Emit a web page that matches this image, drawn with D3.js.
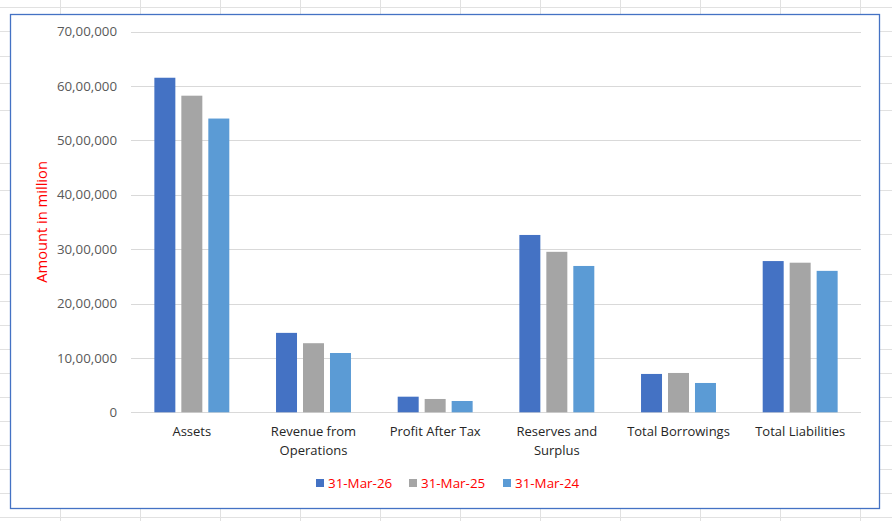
<!DOCTYPE html>
<html>
<head>
<meta charset="utf-8">
<script src="https://cdn.jsdelivr.net/npm/d3@7"></script>
<style>
  html, body { margin: 0; padding: 0; background: #fff; }
  svg { display: block; font-family: "Open Sans", "Noto Sans", sans-serif; }
</style>
</head>
<body>
<div id="chart"></div>
<script>
// Data
const categories = ["Assets", "Revenue from Operations", "Profit After Tax", "Reserves and Surplus", "Total Borrowings", "Total Liabilities"];
const seriesNames = ["31-Mar-26", "31-Mar-25", "31-Mar-24"];
const values2026 = [6150000, 1460000, 287000, 3260000, 705000, 2780000];
const values2025 = [5820000, 1270000, 245000, 2950000, 723000, 2750000];
const values2024 = [5400000, 1090000, 208000, 2690000, 539000, 2600000];
const yTicks = [0, 1000000, 2000000, 3000000, 4000000, 5000000, 6000000, 7000000];
const categoryLines = {
    "Revenue from Operations": ["Revenue from", "Operations"],
    "Reserves and Surplus": ["Reserves and", "Surplus"]
};

const seriesValues = [values2026, values2025, values2024];
const colors = ["#4472C4", "#A5A5A5", "#5B9BD5"];

const W = 892, H = 521;
const svg = d3.select("#chart").append("svg")
    .attr("width", W)
    .attr("height", H);

// Spreadsheet background grid
const sheetRows = [7, 31, 56, 83, 110, 163, 190, 234, 274, 301, 325, 349, 373, 397, 421, 445, 469, 493, 517];
const sheetCols = d3.range(60, W, 80);
const sheet = svg.append("g").attr("stroke", "#E1E1E1").attr("stroke-width", 1);
sheet.selectAll("line.r")
    .data(sheetRows)
    .join("line")
    .attr("class", "r")
    .attr("x1", 0).attr("x2", W)
    .attr("y1", d => d + 0.5).attr("y2", d => d + 0.5);
sheet.selectAll("line.c")
    .data(sheetCols)
    .join("line")
    .attr("class", "c")
    .attr("x1", d => d + 0.5).attr("x2", d => d + 0.5)
    .attr("y1", 0).attr("y2", H);

// Chart area
svg.append("rect")
    .attr("x", 10.5).attr("y", 14.5)
    .attr("width", 869).attr("height", 494)
    .attr("fill", "#fff")
    .attr("stroke", "#4472C4")
    .attr("stroke-width", 1.3);

const plot = { left: 131, right: 861, top: 31.5, bottom: 412.3 };

const y = d3.scaleLinear()
    .domain([0, 7000000])
    .range([plot.bottom, plot.top]);

const x0 = d3.scaleBand()
    .domain(categories)
    .range([plot.left, plot.right])
    .paddingInner(0.384)
    .paddingOuter(0.192);

const x1 = d3.scaleBand()
    .domain(seriesNames)
    .range([0, x0.bandwidth()])
    .paddingInner(0.222);

const indianFormat = d => d === 0 ? "0" : d.toLocaleString("en-IN");

// Gridlines
svg.append("g")
    .selectAll("line")
    .data(yTicks)
    .join("line")
    .attr("x1", plot.left)
    .attr("x2", plot.right)
    .attr("y1", d => Math.round(y(d)) + 0.5)
    .attr("y2", d => Math.round(y(d)) + 0.5)
    .attr("stroke", "#D9D9D9")
    .attr("stroke-width", 1);

// Y axis labels
const yAxis = svg.append("g")
    .attr("transform", `translate(${plot.left - 14},0)`)
    .call(d3.axisLeft(y).tickValues(yTicks).tickFormat(indianFormat).tickSize(0).tickPadding(0));
yAxis.select(".domain").remove();
yAxis.selectAll("text")
    .style("font-family", "'Open Sans', 'Noto Sans', sans-serif")
    .style("font-size", "13.3px")
    .attr("fill", "#595959");

// Bars
const groups = svg.append("g")
    .selectAll("g")
    .data(categories)
    .join("g")
    .attr("transform", d => `translate(${x0(d)},0)`);

groups.selectAll("rect")
    .data((c, i) => seriesNames.map((s, k) => ({ s, k, v: seriesValues[k][i] })))
    .join("rect")
    .attr("x", d => x1(d.s))
    .attr("width", x1.bandwidth())
    .attr("y", d => y(d.v))
    .attr("height", d => y(0) - y(d.v))
    .attr("fill", d => colors[d.k]);

// Category labels
const catLabels = svg.append("g")
    .selectAll("text")
    .data(categories)
    .join("text")
    .attr("x", d => x0(d) + x0.bandwidth() / 2)
    .attr("y", 436)
    .attr("text-anchor", "middle")
    .style("font-size", "13px")
    .attr("fill", "#262626");

catLabels.selectAll("tspan")
    .data(d => categoryLines[d] || [d])
    .join("tspan")
    .attr("x", function() { return d3.select(this.parentNode).attr("x"); })
    .attr("dy", (d, i) => i === 0 ? 0 : 19)
    .text(d => d);

// Y axis title
svg.append("text")
    .attr("transform", `translate(47, ${(plot.top + plot.bottom) / 2}) rotate(-90)`)
    .attr("text-anchor", "middle")
    .style("font-size", "14.7px")
    .attr("fill", "#FF0000")
    .text("Amount in million");

// Legend
const legendX = [316, 409, 503];
const legend = svg.append("g")
    .selectAll("g")
    .data(seriesNames)
    .join("g")
    .attr("transform", (d, i) => `translate(${legendX[i]}, 483)`);

legend.append("rect")
    .attr("x", 0)
    .attr("y", -4)
    .attr("width", 8)
    .attr("height", 8)
    .attr("fill", (d, i) => colors[i]);

legend.append("text")
    .attr("x", 12)
    .attr("y", 0)
    .attr("dy", "0.35em")
    .style("font-size", "13.4px")
    .attr("fill", "#FF0000")
    .text(d => d);
</script>
</body>
</html>
